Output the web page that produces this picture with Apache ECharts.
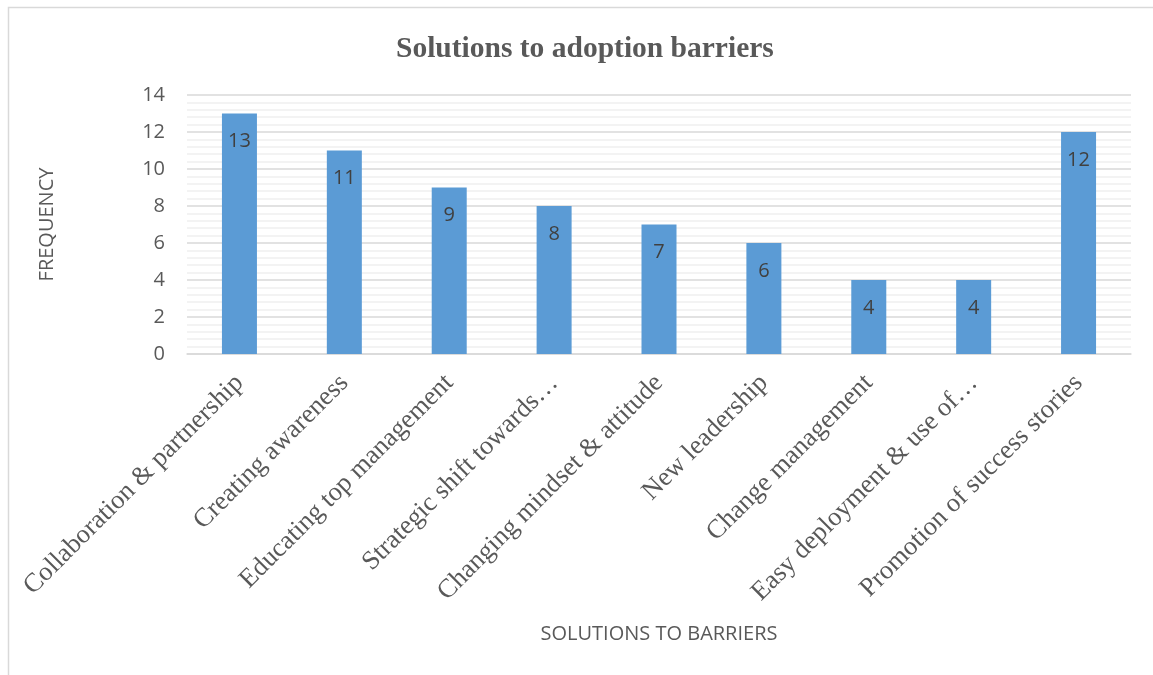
<!DOCTYPE html>
<html>
<head>
<meta charset="utf-8">
<script src="https://cdn.jsdelivr.net/npm/echarts@6/dist/echarts.min.js"></script>
<style>html,body{margin:0;padding:0;background:#fff;}#chart{width:1153px;height:675px;}</style>
</head>
<body>
<div id="chart"></div>
<script>
const categories = ["Collaboration & partnership","Creating awareness","Educating top management","Strategic shift towards…","Changing mindset & attitude","New leadership","Change management","Easy deployment & use of…","Promotion of success stories"];
const frequency = [13, 11, 9, 8, 7, 6, 4, 4, 12];
const chart = echarts.init(document.getElementById('chart'));
chart.setOption({
  animation: false,
  backgroundColor: '#fff',
  title: {
    text: 'Solutions to adoption barriers',
    left: 391, top: 29,
    textStyle: { fontFamily: 'Liberation Serif', fontWeight: 'bold', fontSize: 29.5, color: '#595959' }
  },
  graphic: [{
    type: 'rect', shape: { x: 8.5, y: 7.5, width: 1170, height: 700 },
    style: { fill: 'none', stroke: '#d9d9d9', lineWidth: 1.5 }, silent: true, z: -1
  }],
  grid: { left: 187, right: 22, top: 95, bottom: 321 },
  xAxis: {
    type: 'category', data: categories,
    axisLine: { lineStyle: { color: '#d9d9d9', width: 1.5 } },
    axisTick: { show: false },
    axisLabel: { rotate: 45, interval: 0, margin: 25, fontFamily: 'Liberation Serif', fontSize: 26.5, color: '#595959' },
    name: 'SOLUTIONS TO BARRIERS', nameLocation: 'middle', nameGap: 270,
    nameTextStyle: { fontFamily: 'Open Sans', fontSize: 20, color: '#595959' }
  },
  yAxis: {
    type: 'value', min: 0, max: 14, interval: 2,
    axisLine: { show: false }, axisTick: { show: false },
    axisLabel: { fontFamily: 'Open Sans', fontSize: 20, color: '#595959', margin: 22 },
    splitLine: { lineStyle: { color: '#d9d9d9', width: 1.5 } },
    minorTick: { show: false, splitNumber: 5 },
    minorSplitLine: { show: true, lineStyle: { color: '#f0f0f0', width: 1.5 } },
    name: 'FREQUENCY', nameLocation: 'middle', nameGap: 130,
    nameTextStyle: { fontFamily: 'Open Sans', fontSize: 20, color: '#595959' }
  },
  series: [{
    type: 'bar', data: frequency, barWidth: 35,
    itemStyle: { color: '#5b9bd5' },
    label: { show: true, position: 'insideTop', distance: 18, fontFamily: 'Open Sans', fontSize: 20, color: '#404040' }
  }]
});
</script>
</body>
</html>
